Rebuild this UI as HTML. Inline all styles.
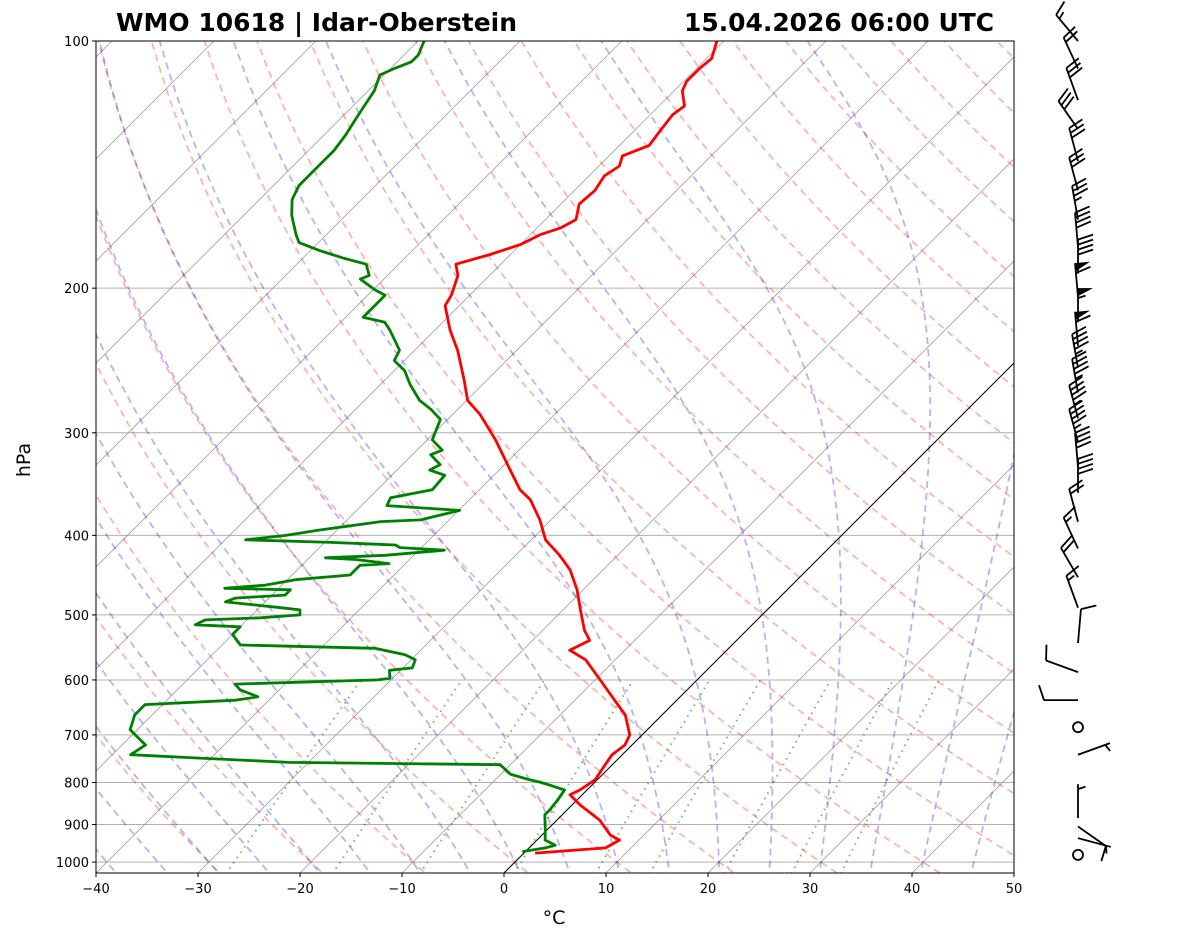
<!DOCTYPE html>
<html><head><meta charset="utf-8">
<style>
html,body{margin:0;padding:0;background:#fff;}
svg{display:block;font-family:"DejaVu Sans","Liberation Sans",sans-serif;}
</style></head>
<body>
<svg id="chart" width="1181" height="941" viewBox="0 0 1181 941" xmlns="http://www.w3.org/2000/svg">
<defs><clipPath id="plotclip"><rect x="96" y="41" width="918" height="832"/></clipPath></defs>
<rect width="1181" height="941" fill="#fff"/>
<text x="116" y="31" font-size="25" font-weight="bold" textLength="401" lengthAdjust="spacingAndGlyphs">WMO 10618 | Idar-Oberstein</text>
<text x="684" y="31" font-size="25" font-weight="bold" textLength="310" lengthAdjust="spacingAndGlyphs">15.04.2026 06:00 UTC</text>
<g id="bg" clip-path="url(#plotclip)"></g>
<g id="data" clip-path="url(#plotclip)"></g>
<rect x="96" y="41" width="918" height="832" fill="none" stroke="#000" stroke-width="1"/>
<g id="axes"></g>
<g id="barbs"></g>
<text x="30" y="460" font-size="19" text-anchor="middle" transform="rotate(-90 30 460)">hPa</text>
<text x="554" y="924" font-size="19" text-anchor="middle">°C</text>
</svg>
<script>
const pTicks=[100,200,300,400,500,600,700,800,900,1000];
const tTicks=[-40,-30,-20,-10,0,10,20,30,40,50];
const tempP=[100,105,108,112,115,120,123,128,134,138,142,146,152,158,165,169,172,177,182,187,193,204,210,225,238,259,274,285,306,333,352,362,383,405,423,441,466,493,522,537,552,567,600,635,662,700,720,740,761,794,817,828,852,889,927,940,961,975];
const tempT=[-60.7,-59.5,-59.7,-59.7,-59.2,-57.5,-57.8,-57.5,-57.1,-58.7,-58.0,-58.5,-58.0,-58.2,-57.0,-57.7,-59.0,-60.0,-62.0,-64.4,-63.1,-61.8,-61.4,-58.5,-55.8,-52.2,-49.9,-47.3,-43.3,-38.9,-36.0,-34.0,-31.1,-28.6,-25.7,-23.2,-20.6,-18.3,-15.9,-14.4,-15.4,-12.9,-9.5,-6.1,-3.6,-1.2,-0.7,-1.0,-0.7,-0.2,-0.7,-1.2,0.8,4.2,6.7,8.1,7.5,1.1];
const dewP=[100,104,106,108,110,115,120,125,130,136,140,144,150,156,163,172,176,180,184,187,193,195,201,204,210,217,220,225,238,245,252,262,274,281,289,306,315,319,328,333,338,352,360,368,373,383,385,394,400,405,408,411,414,417,423,426,428,433,435,447,453,460,464,466,473,477,482,490,493,500,504,507,514,517,528,544,549,559,567,580,584,597,600,607,617,629,635,643,662,690,720,740,747,756,761,782,794,799,806,817,840,864,876,913,940,954,961,971];
const dewT=[-89.4,-88.6,-88.6,-89.6,-90.4,-89.4,-88.9,-88.4,-87.9,-87.5,-87.5,-87.5,-87.5,-86.8,-85.3,-83.0,-81.9,-79.1,-75.9,-73.2,-71.8,-72.3,-69.8,-68.3,-68.3,-68.3,-65.7,-64.4,-61.5,-61.0,-59.0,-57.1,-54.6,-52.6,-50.7,-49.5,-47.5,-48.2,-46.3,-46.8,-44.8,-44.6,-47.9,-47.5,-39.9,-42.8,-46.6,-51.7,-54.5,-58.0,-49.4,-42.8,-42.1,-37.5,-42.8,-48.4,-45.3,-41.6,-44.3,-44.3,-49.2,-51.7,-55.3,-48.7,-48.7,-53.3,-53.9,-47.9,-45.8,-45.3,-48.9,-54.1,-54.6,-50.0,-50.0,-48.2,-34.7,-31.1,-29.6,-29.1,-31.1,-30.3,-31.3,-44.9,-43.8,-41.4,-43.3,-51.7,-51.7,-50.7,-47.7,-48.2,-41.1,-31.9,-11.0,-9.0,-6.6,-5.4,-4.1,-2.2,-1.9,-1.7,-1.7,-0.2,0.8,2.3,1.6,-0.3];
const windP=[100,108,118,128,140,152,165,178,192,205,220,235,250,268,288,308,330,355,385,415,450,490,541,587,635,685,740,884,905,935,980];
const windDir=[320,335,340,325,345,345,350,355,0,355,0,355,350,350,345,345,355,0,345,335,330,340,5,290,270,0,70,0,125,105,0];
const windSpd=[15,20,30,30,30,30,35,40,40,60,55,60,45,45,45,45,40,40,20,15,20,15,10,10,10,0,5,5,10,5,0];

const NS="http://www.w3.org/2000/svg";
const Y0=41,B=356.6,XB=504,KX=10.2,YB=873;
function yOf(p){return Y0+B*Math.log(p/100);}
function xOf(T,p){return XB+KX*T+(YB-yOf(p));}
function mk(tag,attrs,parent){const e=document.createElementNS(NS,tag);for(const k in attrs)e.setAttribute(k,attrs[k]);parent.appendChild(e);return e;}
const bg=document.getElementById('bg'),dg=document.getElementById('data'),ax=document.getElementById('axes'),bb=document.getElementById('barbs');
function ptsOf(ps,ts){return ps.map((p,i)=>xOf(ts[i],p).toFixed(1)+','+yOf(p).toFixed(1)).join(' ');}
const levels=[];for(let p=1050;p>=100;p-=10)levels.push(p);

pTicks.forEach(p=>{const l=mk('line',{x1:96,x2:1014,y1:yOf(p),y2:yOf(p),stroke:'#b0b0b0','stroke-width':1},bg);

});
for(let T=-140;T<=50;T+=10){const l=mk('line',{x1:xOf(T,1050),y1:yOf(1050),x2:xOf(T,100),y2:yOf(100),stroke:'#888','stroke-width':0.8,'stroke-opacity':0.8},bg);

}
for(let th=-30;th<=200;th+=10){const ts=levels.map(p=>(th+273.15)*Math.pow(p/1000,0.2857)-273.15);
const l=mk('polyline',{points:ptsOf(levels,ts),fill:'none',stroke:'#ff0000','stroke-opacity':0.3,'stroke-width':1.8,'stroke-dasharray':'7,5'},bg);

}
function es(T){return 6.112*Math.exp(17.67*T/(T+243.5));}
function moist(T0){const res={};const Rd=287.04,cp=1005.7,Lv=2.501e6,eps=0.622;
function dTdp(p,T){const Tk=T+273.15;const e=es(T);const rs=eps*e/(p-e);return (Rd*Tk+Lv*rs)/(p*(cp+Lv*Lv*rs*eps/(Rd*Tk*Tk)));}
let T=T0;res[1000]=T;for(let p=1000;p<1050;p+=1){T+=dTdp(p,T);if((p+1)%10===0)res[p+1]=T;}
T=T0;for(let p=1000;p>100;p-=1){T-=dTdp(p,T);if((p-1)%10===0)res[p-1]=T;}
return levels.map(p=>res[p]);}
for(let t=-40;t<=45;t+=5){const ts=moist(t);
const l=mk('polyline',{points:ptsOf(levels,ts),fill:'none',stroke:'#0000ff','stroke-opacity':0.3,'stroke-width':1.8,'stroke-dasharray':'7,5'},bg);

}
const mixW=[0.0004,0.001,0.002,0.004,0.007,0.01,0.016,0.024,0.032];
const mixP=[];for(let p=1050;p>=600;p-=10)mixP.push(p);
mixW.forEach(w=>{const ts=mixP.map(p=>{const e=p*w/(0.622+w);const a=Math.log(e/6.112);return 243.5*a/(17.67-a);});
const l=mk('polyline',{points:ptsOf(mixP,ts),fill:'none',stroke:'#008000','stroke-opacity':0.55,'stroke-width':2,'stroke-dasharray':'1.5,5'},bg);

});
const z=mk('line',{x1:xOf(0,1050),y1:yOf(1050),x2:xOf(0,100),y2:yOf(100),stroke:'#000','stroke-width':1},bg);


const tl=mk('polyline',{points:ptsOf(tempP,tempT),fill:'none',stroke:'#ff0000','stroke-width':2.8,'stroke-linejoin':'round'},dg);


const dl=mk('polyline',{points:ptsOf(dewP,dewT),fill:'none',stroke:'#008000','stroke-width':2.8,'stroke-linejoin':'round'},dg);


pTicks.forEach(p=>{const y=yOf(p);mk('line',{x1:92,x2:96,y1:y,y2:y,stroke:'#000'},ax);
const t=mk('text',{x:89,y:y+5,'font-size':13,'text-anchor':'end'},ax);t.textContent=p;

});
tTicks.forEach(T=>{const x=96+(T+40)*KX;mk('line',{x1:x,x2:x,y1:873,y2:877,stroke:'#000'},ax);
const t=mk('text',{x:x,y:893,'font-size':13,'text-anchor':'middle'},ax);t.textContent=(T<0?'\u2212'+(-T):T);

});
const BX=1078,L=34;
windP.forEach((p,i)=>{const y=yOf(p);const g=mk('g',{},bb);


const sp=windSpd[i];
if(sp<2.5){mk('circle',{cx:BX,cy:y,r:5,fill:'none',stroke:'#000','stroke-width':1.8},g);return;}
const d=windDir[i]*Math.PI/180;const ux=Math.sin(d),uy=-Math.cos(d);const nx=-uy,ny=ux;
const tx=BX+ux*L,ty=y+uy*L;
mk('line',{x1:BX,y1:y,x2:tx,y2:ty,stroke:'#000','stroke-width':1.8},g);
let s=Math.round(sp/5)*5;let pos=0;const step=5,bl=15;
while(s>=50){const ax1=tx-ux*pos,ay1=ty-uy*pos,ax2=tx-ux*(pos+8),ay2=ty-uy*(pos+8);
mk('polygon',{points:`${ax1},${ay1} ${ax1+nx*bl},${ay1+ny*bl} ${ax2},${ay2}`,fill:'#000'},g);pos+=10;s-=50;}
while(s>=10){const bx=tx-ux*pos,by=ty-uy*pos;mk('line',{x1:bx,y1:by,x2:bx+nx*bl+ux*5,y2:by+ny*bl+uy*5,stroke:'#000','stroke-width':1.8},g);pos+=step;s-=10;}
if(s>=5){if(pos===0)pos=step;const bx=tx-ux*pos,by=ty-uy*pos;mk('line',{x1:bx,y1:by,x2:bx+nx*bl*0.5+ux*2.5,y2:by+ny*bl*0.5+uy*2.5,stroke:'#000','stroke-width':1.8},g);}
});
</script>
</body></html>
